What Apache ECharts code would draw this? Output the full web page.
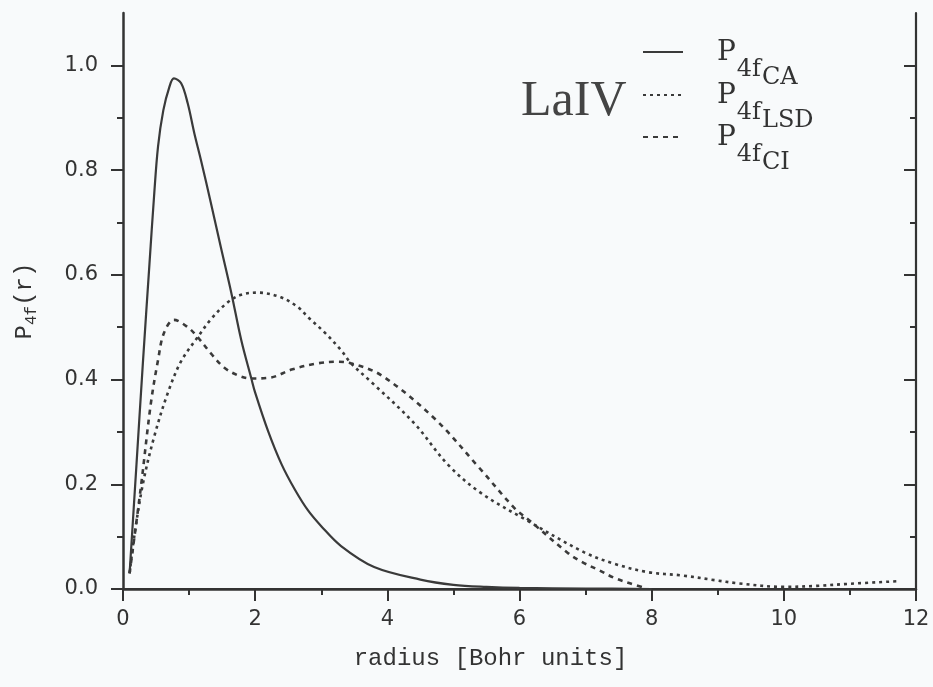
<!DOCTYPE html>
<html>

<head>
  <meta charset="UTF-8">
  <title>LaIV P4f(r)</title>
  <script src="https://cdn.jsdelivr.net/npm/echarts@6/dist/echarts.min.js"></script>
  <style>
    html, body { margin: 0; padding: 0; background: #f8fafb; }
  </style>
</head>

<body>
  <div id="main" style="width: 933px;height:687px;"></div>
  <script type="text/javascript">
    // radius [Bohr] and P4f(r)
    var caR = [0.1, 0.2, 0.3, 0.4, 0.47, 0.53, 0.61, 0.70, 0.77, 0.88, 0.98, 1.08, 1.18, 1.33, 1.48, 1.64, 1.79, 1.94, 2.0, 2.2, 2.4, 2.6, 2.8, 3.0, 3.3, 3.8, 4.5, 5.0, 5.5, 6.0, 7.0, 8.0];
    var caP = [0.03, 0.23, 0.43, 0.62, 0.75, 0.845, 0.914, 0.958, 0.975, 0.966, 0.927, 0.870, 0.819, 0.737, 0.653, 0.565, 0.475, 0.403, 0.375, 0.300, 0.238, 0.190, 0.150, 0.120, 0.082, 0.042, 0.018, 0.008, 0.004, 0.002, 0.001, 0];

    var lsdR = [0.10, 0.17, 0.30, 0.47, 0.68, 0.88, 1.13, 1.33, 1.59, 1.79, 2.04, 2.39, 2.65, 2.80, 3.05, 3.30, 3.45, 3.76, 4.41, 4.92, 5.42, 6.10, 6.98, 7.44, 7.95, 8.45, 8.95, 9.30, 10.0, 10.5, 11.0, 11.75];
    var lsdP = [0.03, 0.10, 0.20, 0.29, 0.375, 0.435, 0.481, 0.515, 0.548, 0.562, 0.566, 0.557, 0.538, 0.519, 0.490, 0.456, 0.431, 0.395, 0.316, 0.237, 0.183, 0.132, 0.070, 0.048, 0.032, 0.026, 0.017, 0.011, 0.004, 0.006, 0.010, 0.015];

    var ciR = [0.10, 0.27, 0.42, 0.53, 0.62, 0.77, 0.98, 1.13, 1.33, 1.53, 1.74, 1.94, 2.24, 2.55, 2.95, 3.25, 3.45, 3.91, 4.71, 5.38, 5.92, 6.14, 6.74, 6.94, 7.20, 7.44, 7.67, 7.90];
    var ciP = [0.03, 0.194, 0.353, 0.437, 0.489, 0.514, 0.500, 0.481, 0.450, 0.423, 0.408, 0.402, 0.404, 0.419, 0.431, 0.434, 0.431, 0.408, 0.326, 0.233, 0.155, 0.132, 0.068, 0.052, 0.036, 0.021, 0.011, 0.002];

    var yMajor = [0, 0.2, 0.4, 0.6, 0.8, 1.0];
    var yMinor = [0.1, 0.3, 0.5, 0.7, 0.9];

    var ink = '#3a3a3a';

    function pairs(xs, ys) {
      return xs.map(function (x, i) { return [x, ys[i]]; });
    }

    var myChart = echarts.init(document.getElementById('main'));

    // P with a subscript 4f and a second-level subscript
    var legendRich = {
      p: { fontSize: 28, fontFamily: 'DejaVu Serif', lineHeight: 32, verticalAlign: 'top', padding: [3, 0, 0, 29], color: '#333' },
      s: { fontSize: 24, fontFamily: 'DejaVu Serif', lineHeight: 32, verticalAlign: 'top', padding: [22, 0, 0, 1], color: '#333' },
      t: { fontSize: 24, fontFamily: 'DejaVu Serif', lineHeight: 32, verticalAlign: 'top', padding: [30, 0, 0, 1], color: '#333' }
    };
    var legendTops = [36, 79, 121];

    function tickAxis(pos, values, len, inside, line) {
      return {
        type: 'value', position: pos, min: 0, max: 1.1,
        axisLine: { show: line, lineStyle: { color: '#333', width: 2.2 } },
        axisTick: { show: true, inside: inside, length: len, customValues: values, lineStyle: { color: '#333', width: 2 } },
        axisLabel: { show: false },
        splitLine: { show: false }
      };
    }

    var left = tickAxis('left', yMajor, 12, false, true);
    left.axisLine.lineStyle.width = 2.5;
    left.axisLabel = {
      show: true, margin: 25, customValues: yMajor,
      fontFamily: 'DejaVu Sans', fontSize: 21, color: '#333',
      formatter: function (v) { return v.toFixed(1); }
    };
    left.name = '{p|P}{s|4f}{p|(r)}';
    left.nameLocation = 'middle';
    left.nameGap = 86;
    left.nameTextStyle = {
      rich: {
        p: { fontFamily: 'Liberation Mono', fontSize: 24, lineHeight: 24, verticalAlign: 'top', color: '#333' },
        s: { fontFamily: 'Liberation Mono', fontSize: 16, lineHeight: 24, verticalAlign: 'top', padding: [11, 0, 0, 0], color: '#333' }
      }
    };

    var option = {
      backgroundColor: '#f8fafb',
      animation: false,
      title: {
        text: 'LaIV', left: 521, top: 77, padding: 0,
        textStyle: { fontFamily: 'Liberation Serif', fontSize: 50, fontWeight: 'normal', color: '#444' }
      },
      legend: ['CA', 'LSD', 'CI'].map(function (n, i) {
        return {
          data: [n], orient: 'vertical', left: 642, top: legendTops[i], padding: 0,
          itemWidth: 40, itemHeight: 14,
          itemStyle: { opacity: 0 },
          formatter: function (name) { return '{p|P}{s|4f}{t|' + name + '}'; },
          textStyle: { rich: legendRich }
        };
      }),
      grid: { left: 123, right: 17, top: 13, bottom: 98, containLabel: false, outerBoundsMode: 'none' },
      xAxis: [{
        type: 'value', position: 'bottom', min: 0, max: 12, interval: 2,
        axisLine: { lineStyle: { color: '#333', width: 2.5 } },
        axisTick: { inside: false, length: 12, lineStyle: { color: '#333', width: 2 } },
        minorTick: { show: true, splitNumber: 2, length: 6, lineStyle: { color: '#333', width: 2 } },
        splitLine: { show: false },
        axisLabel: { margin: 20, fontFamily: 'DejaVu Sans', fontSize: 21, color: '#333' },
        name: 'radius [Bohr units]', nameLocation: 'middle', nameGap: 58,
        nameTextStyle: { fontFamily: 'Liberation Mono', fontSize: 24, color: '#333', padding: [0, 58, 0, 0] }
      }, {
        type: 'value', position: 'top', min: 0, max: 12, interval: 2,
        axisLine: { lineStyle: { color: '#333', width: 2.2 } },
        axisTick: { inside: true, length: 12, lineStyle: { color: '#333', width: 2 } },
        minorTick: { show: true, splitNumber: 2, length: 6, lineStyle: { color: '#333', width: 2 } },
        splitLine: { show: false },
        axisLabel: { show: false }
      }],
      yAxis: [
        left,
        tickAxis('left', yMinor, 6, false, false),
        tickAxis('right', yMajor, 12, true, true),
        tickAxis('right', yMinor, 6, true, false)
      ],
      series: [{
        name: 'CA', type: 'line', symbol: 'none', smooth: 0.35,
        lineStyle: { color: ink, width: 2.2, type: 'solid' },
        itemStyle: { color: ink },
        data: pairs(caR, caP)
      }, {
        name: 'LSD', type: 'line', symbol: 'none', smooth: 0.35,
        lineStyle: { color: ink, width: 2.6, type: [3, 4] },
        itemStyle: { color: ink },
        data: pairs(lsdR, lsdP)
      }, {
        name: 'CI', type: 'line', symbol: 'none', smooth: 0.35,
        lineStyle: { color: ink, width: 2.6, type: [5, 5] },
        itemStyle: { color: ink },
        data: pairs(ciR, ciP)
      }]
    };

    myChart.setOption(option);
  </script>
</body>

</html>
